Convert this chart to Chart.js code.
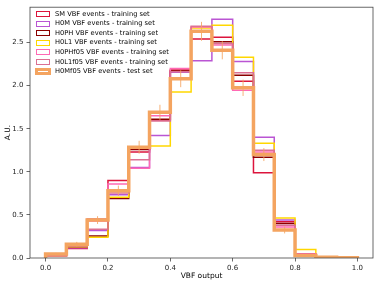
<!DOCTYPE html>
<html>
<head>
<meta charset="utf-8">
<script src="https://cdn.jsdelivr.net/npm/chart.js@4.4.1/dist/chart.umd.min.js"></script>
<style>
body { margin: 0; background: #fff; }
#wrap { position: relative; width: 378px; height: 285px; }
#legend { position: absolute; left: 0; top: 0; font-family: "DejaVu Sans", sans-serif; font-size: 6.7px; color: #000; }
.lbox { position: absolute; box-sizing: border-box; background: transparent; }
.ltxt { position: absolute; white-space: nowrap; line-height: 9px; }
</style>
</head>
<body>
<div id="wrap">
  <canvas id="myChart"></canvas>
  <div id="legend"></div>
</div>
<script>
// bin edges of the VBF output histogram (15 bins on [0,1])
const binEdges = [0, 1/15, 2/15, 3/15, 4/15, 5/15, 6/15, 7/15, 8/15, 9/15, 10/15, 11/15, 12/15, 13/15, 14/15, 1];

const seriesNames = [
  'SM VBF events - training set',
  'H0M VBF events - training set',
  'H0PH VBF events - training set',
  'H0L1 VBF events - training set',
  'H0PHf05 VBF events - training set',
  'H0L1f05 VBF events - training set',
  'H0Mf05 VBF events - test set'
];
const seriesColors = ['#dc143c', '#ba55d3', '#8b0000', '#ffd700', '#ff69b4', '#db7093', '#f4a460'];

// normalised bin contents, one per bin
const smTrain     = [0.025, 0.11, 0.45, 0.90, 1.23, 1.60, 2.18, 2.54, 2.56, 2.05, 0.99, 0.42, 0.045, 0.005, 0.001];
const h0mTrain    = [0.020, 0.12, 0.32, 0.735, 1.05, 1.42, 2.155, 2.29, 2.77, 2.28, 1.40, 0.44, 0.040, 0.005, 0.001];
const h0phTrain   = [0.025, 0.13, 0.255, 0.69, 1.26, 1.61, 2.17, 2.62, 2.51, 2.12, 1.17, 0.40, 0.040, 0.005, 0.001];
const h0l1Train   = [0.020, 0.13, 0.24, 0.705, 1.28, 1.30, 1.925, 2.67, 2.70, 2.33, 1.33, 0.465, 0.10, 0.010, 0.002];
const h0phf05Train= [0.025, 0.15, 0.43, 0.86, 1.04, 1.65, 2.20, 2.68, 2.47, 1.945, 1.23, 0.36, 0.045, 0.005, 0.001];
const h0l1f05Train= [0.025, 0.14, 0.335, 0.755, 1.14, 1.59, 2.16, 2.69, 2.49, 2.15, 1.25, 0.38, 0.040, 0.005, 0.001];
const h0mf05Test  = [0.045, 0.16, 0.44, 0.78, 1.285, 1.69, 2.08, 2.63, 2.41, 1.975, 1.20, 0.325, 0.030, 0.010, 0.002];
const h0mf05Err   = [0.015, 0.027, 0.045, 0.06, 0.075, 0.088, 0.098, 0.11, 0.105, 0.095, 0.075, 0.04, 0.012, 0.007, 0.003];

const xTicks = [0.0, 0.2, 0.4, 0.6, 0.8, 1.0];
const yTicks = [0.0, 0.5, 1.0, 1.5, 2.0, 2.5];

const allSeries = [smTrain, h0mTrain, h0phTrain, h0l1Train, h0phf05Train, h0l1f05Train, h0mf05Test];

function stepPoints(vals) {
  let pts = [{x: binEdges[0], y: 0}];
  for (let i = 0; i < vals.length; i++) pts.push({x: binEdges[i], y: vals[i]});
  pts.push({x: binEdges[binEdges.length - 1], y: 0});
  return pts;
}

function errPoints(vals, errs) {
  let pts = [];
  for (let i = 0; i < vals.length; i++) {
    let c = (binEdges[i] + binEdges[i + 1]) / 2;
    pts.push({x: c, y: vals[i] - errs[i]});
    pts.push({x: c, y: vals[i] + errs[i]});
    pts.push({x: c, y: null});
  }
  return pts;
}

let datasets = allSeries.map((vals, i) => ({
  label: seriesNames[i],
  data: stepPoints(vals),
  borderColor: seriesColors[i],
  backgroundColor: 'rgba(0,0,0,0)',
  borderWidth: i == 6 ? 3.5 : 1.5,
  stepped: true,
  pointRadius: 0,
  fill: false,
  order: 10 - i
}));
datasets.push({
  label: 'err',
  data: errPoints(h0mf05Test, h0mf05Err),
  borderColor: 'rgba(244,164,96,0.85)',
  borderWidth: 1,
  pointRadius: 0,
  spanGaps: false,
  fill: false,
  order: 1
});

const framePlugin = {
  id: 'frame',
  afterDatasetsDraw(chart) {
    const {ctx, chartArea: a} = chart;
    ctx.save();
    ctx.strokeStyle = '#444';
    ctx.lineWidth = 0.8;
    ctx.strokeRect(a.left, a.top, a.right - a.left, a.bottom - a.top);
    ctx.restore();
  }
};

const tickFont = {family: 'DejaVu Sans', size: 7};

const ctx = document.getElementById('myChart').getContext('2d');
const myChart = new Chart(ctx, {
  type: 'line',
  data: {datasets: datasets},
  plugins: [framePlugin],
  options: {
    responsive: true,
    maintainAspectRatio: false,
    animation: false,
    layout: {padding: {top: 4, right: 5, left: 0, bottom: 0}},
    plugins: {legend: {display: false}, tooltip: {enabled: false}},
    scales: {
      x: {
        type: 'linear',
        min: -0.05,
        max: 1.05,
        afterFit: (s) => { s.height = 27; },
        afterBuildTicks: (s) => { s.ticks = xTicks.map(v => ({value: v})); },
        ticks: {font: tickFont, color: '#222', padding: 2, callback: (v) => v.toFixed(1), maxRotation: 0},
        grid: {drawOnChartArea: false, drawTicks: true, tickLength: 3.5, color: '#444', tickWidth: 0.8},
        border: {display: false},
        title: {display: true, text: 'VBF output', font: {family: 'DejaVu Sans', size: 7.5}, color: '#000', padding: {top: 0, bottom: 4}}
      },
      y: {
        type: 'linear',
        min: 0,
        max: 2.91,
        afterFit: (s) => { s.width = 30; },
        afterBuildTicks: (s) => { s.ticks = yTicks.map(v => ({value: v})); },
        ticks: {font: tickFont, color: '#222', padding: 3, callback: (v) => v.toFixed(1)},
        grid: {drawOnChartArea: false, drawTicks: true, tickLength: 3.5, color: '#444', tickWidth: 0.8},
        border: {display: false},
        title: {display: true, text: 'A.U.', font: {family: 'DejaVu Sans', size: 7.5}, color: '#000', padding: {top: 4, bottom: 0}}
      }
    }
  }
});

// legend, upper left inside the axes
const legend = document.getElementById('legend');
seriesNames.forEach((name, i) => {
  const cy = 14 + 9.6 * i;
  const thick = i == 6;
  const box = document.createElement('div');
  box.className = 'lbox';
  box.style.left = (thick ? 35 : 36) + 'px';
  box.style.top = (cy - (thick ? 3.5 : 3)) + 'px';
  box.style.width = (thick ? 16 : 14) + 'px';
  box.style.height = (thick ? 7 : 6) + 'px';
  box.style.border = (thick ? 3 : 1.5) + 'px solid ' + seriesColors[i];
  legend.appendChild(box);
  const txt = document.createElement('div');
  txt.className = 'ltxt';
  txt.style.left = '55px';
  txt.style.top = (cy - 4.5) + 'px';
  txt.textContent = name;
  legend.appendChild(txt);
});
</script>
</body>
</html>
